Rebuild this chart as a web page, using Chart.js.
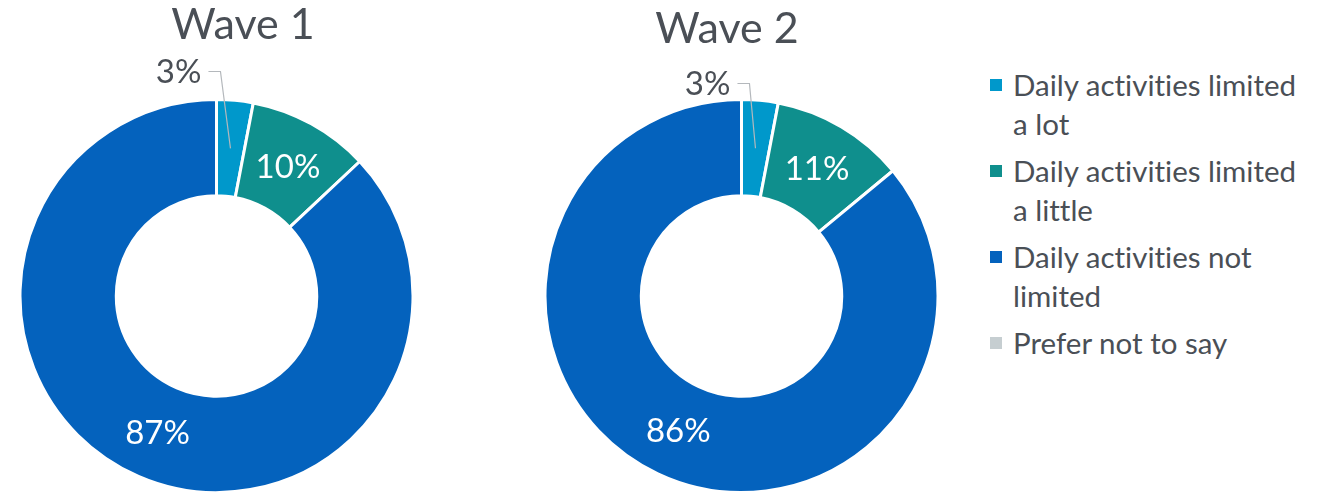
<!DOCTYPE html>
<html>
<head>
<meta charset="utf-8">
<title>Daily activities by wave</title>
<script src="https://cdn.jsdelivr.net/npm/chart.js@4.4.1/dist/chart.umd.min.js"></script>
<style>
  body {
    margin: 0;
    width: 1324px;
    height: 492px;
    overflow: hidden;
    background: #fff;
    position: relative;
    font-family: Lato, "Open Sans", sans-serif;
  }
  .chart-box { position: absolute; top: 0; height: 494px; }
  #wave1-box { left: 0; width: 460px; }
  #wave2-box { left: 460px; width: 520px; }
  #legend {
    position: absolute;
    left: 990px;
    top: 65px;
    width: 310px;
    color: #4a4f56;
    font-size: 29.5px;
    line-height: 39px;
    font-variant-ligatures: none;
  }
  .item { position: relative; padding-left: 23px; margin-bottom: 8px; }
  .swatch { position: absolute; left: 0; top: 14px; width: 12px; height: 12px; }
</style>
</head>
<body>
<div id="wave1-box" class="chart-box"><canvas id="wave1"></canvas></div>
<div id="wave2-box" class="chart-box"><canvas id="wave2"></canvas></div>
<div id="legend"></div>

<script>
// Categories and percentages for each wave
const categories = [
  'Daily activities limited a lot',
  'Daily activities limited a little',
  'Daily activities not limited',
  'Prefer not to say'
];
const wave1Values = [3, 10, 87, 0];
const wave2Values = [3, 11, 86, 0];
const waveTitles = ['Wave 1', 'Wave 2'];
const sliceColors = ['#0098cb', '#0f8f8d', '#0462bd', '#c6ced1'];

const textGrey = '#4a4f56';
const fontFamily = 'Lato, "Open Sans", sans-serif';

// Draws the percentage labels on the slices, plus the chart heading
const sliceLabels = {
  id: 'sliceLabels',
  afterDatasetsDraw(chart, args, opts) {
    const ctx = chart.ctx;
    const meta = chart.getDatasetMeta(0);
    const values = chart.data.datasets[0].data;
    ctx.save();
    ctx.font = '33px ' + fontFamily;
    ctx.textBaseline = 'middle';
    meta.data.forEach((arc, i) => {
      const v = values[i];
      if (!v) return;
      const p = arc.getCenterPoint();
      if (v >= 5) {
        ctx.fillStyle = '#fff';
        ctx.textAlign = 'center';
        ctx.fillText(v + '%', p.x, p.y + 1);
      } else {
        // small slice: label sits above the ring with a leader line
        const bendX = p.x - opts.calloutShift;
        const bendY = arc.y - arc.outerRadius - opts.calloutLift;
        ctx.strokeStyle = '#b4b8bc';
        ctx.lineWidth = 1.2;
        ctx.beginPath();
        ctx.moveTo(p.x, p.y);
        ctx.lineTo(bendX, bendY);
        ctx.lineTo(bendX - 12, bendY);
        ctx.stroke();
        ctx.fillStyle = textGrey;
        ctx.textAlign = 'right';
        ctx.fillText(v + '%', bendX - 19, bendY + 1);
      }
    });
    ctx.font = '43px ' + fontFamily;
    ctx.fillStyle = textGrey;
    ctx.textAlign = 'center';
    ctx.textBaseline = 'alphabetic';
    ctx.fillText(opts.title, opts.titleX, opts.titleY);
    ctx.restore();
  }
};

function makeDoughnut(id, values, title, padding, labelOpts) {
  return new Chart(document.getElementById(id), {
    type: 'doughnut',
    data: {
      labels: categories,
      datasets: [{
        data: values,
        backgroundColor: sliceColors,
        borderColor: '#fff',
        borderWidth: 3
      }]
    },
    options: {
      responsive: true,
      maintainAspectRatio: false,
      animation: false,
      events: [],
      cutout: '51%',
      layout: { padding: padding },
      plugins: {
        legend: { display: false },
        tooltip: { enabled: false },
        sliceLabels: Object.assign({ title: title }, labelOpts)
      }
    },
    plugins: [sliceLabels]
  });
}

makeDoughnut('wave1', wave1Values, waveTitles[0],
  { left: 18, right: 45, top: 98, bottom: 0 },
  { titleX: 243, titleY: 39, calloutShift: 10, calloutLift: 28 });
makeDoughnut('wave2', wave2Values, waveTitles[1],
  { left: 83, right: 40, top: 98, bottom: 0 },
  { titleX: 267, titleY: 43, calloutShift: 6, calloutLift: 16 });

// Legend built from the same categories and colours
const legend = document.getElementById('legend');
categories.forEach((name, i) => {
  const item = document.createElement('div');
  item.className = 'item';
  const sw = document.createElement('span');
  sw.className = 'swatch';
  sw.style.background = sliceColors[i];
  item.appendChild(sw);
  item.appendChild(document.createTextNode(name));
  legend.appendChild(item);
});
</script>
</body>
</html>
